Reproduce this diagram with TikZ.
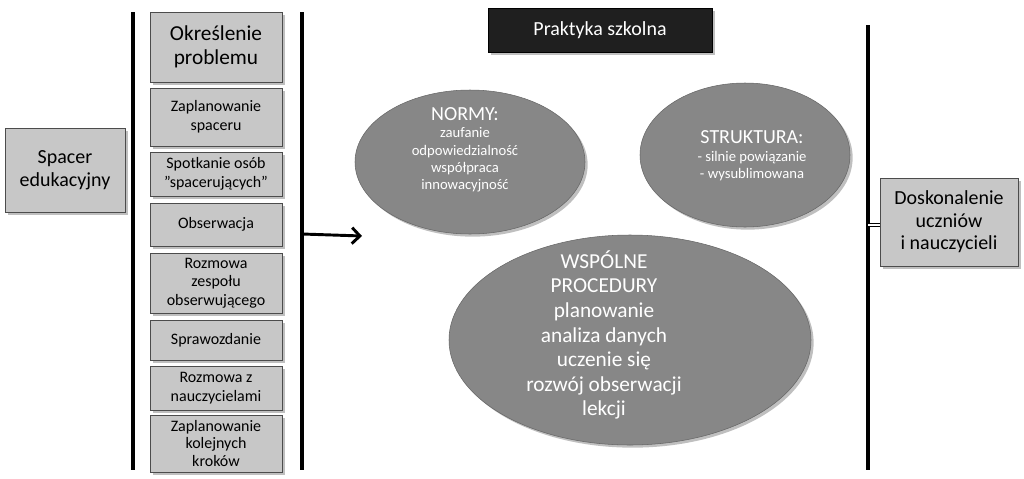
\documentclass[tikz,border=0pt]{standalone}
\usepackage{fontspec}
\setmainfont{Carlito}
\usetikzlibrary{shapes.geometric,arrows.meta,shadows}
\begin{document}
\begin{tikzpicture}[x=0.0264cm,y=-0.0264cm,
  gbox/.style={draw=black!70,fill=black!22,align=center,inner sep=1pt,drop shadow={shadow xshift=2pt,shadow yshift=-2pt,opacity=0.5}},
  ell/.style={ellipse,draw=black!60,fill=black!47,text=white,align=center,inner sep=0pt,drop shadow={shadow xshift=2pt,shadow yshift=-2pt,opacity=0.5}},
  vline/.style={line width=3.5pt,black}]
\useasboundingbox (0,0) rectangle (1024,478);
\node[gbox,minimum width=120*0.0264cm,minimum height=84*0.0264cm,font=\fontsize{15}{17}\selectfont] (sp) at (65,170) {Spacer\\edukacyjny};
\coordinate (l1t) at (133,12); \coordinate (l1b) at (133,470);
\draw[vline] (l1t) -- (l1b);
\coordinate (l2t) at (302,12); \coordinate (l2b) at (302,470);
\draw[vline] (l2t) -- (l2b);
\foreach \n/\ya/\yb/\t/\f/\g in {
 s1/12/82/{Określenie\\problemu}/16/18,
 s2/88/146/{Zaplanowanie\\spaceru}/12/14,
 s3/152/196/{Spotkanie osób\\"spacerujących"}/12/14,
 s4/203/246/{Obserwacja}/12/14,
 s5/253/313/{Rozmowa\\zespołu\\obserwującego}/12/14,
 s6/320/360/{Sprawozdanie}/12/14,
 s7/366/410/{Rozmowa z\\nauczycielami}/12/14,
 s8/415/472/{Zaplanowanie\\kolejnych\\kroków}/12/13.5}{
 \pgfmathsetmacro{\h}{\yb-\ya}
 \node[gbox,minimum width=132*0.0264cm,minimum height=\h*0.0264cm,font=\fontsize{\f}{\g}\selectfont] (\n) at (216,{(\ya+\yb)/2}) {\t};
}
\coordinate (as) at (302,234);
\coordinate (ae) at (362,236);
\draw[line width=2.2pt,-{Straight Barb[length=6pt,width=12pt]}] (as) -- (ae);
\node[fill=black!88,draw=black,text=white,minimum width=224*0.0264cm,minimum height=44*0.0264cm,font=\fontsize{15}{17}\selectfont,drop shadow={shadow xshift=2pt,shadow yshift=-2pt,opacity=0.5}] (ps) at (600,30) {Praktyka szkolna};
\node[ell,minimum width=230*0.0264cm,minimum height=144*0.0264cm] (n) at (470,162) {};
\node[text=white,align=center,font=\fontsize{11}{13}\selectfont] at (465,150) {{\fontsize{15}{16}\selectfont NORMY:}\\zaufanie\\odpowiedzialność\\współpraca\\innowacyjność};
\node[ell,minimum width=210*0.0264cm,minimum height=144*0.0264cm] (st) at (745,155) {};
\node[text=white,align=center,font=\fontsize{11}{13}\selectfont] at (752,156) {{\fontsize{15}{16}\selectfont STRUKTURA:}\\- silnie powiązanie\\- wysublimowana};
\node[ell,minimum width=362*0.0264cm,minimum height=210*0.0264cm] (w) at (630,340) {};
\node[text=white,align=center,font=\fontsize{16}{18.5}\selectfont] at (604,335) {WSPÓLNE\\PROCEDURY\\planowanie\\analiza danych\\uczenie się\\rozwój obserwacji\\lekcji};
\coordinate (r1t) at (868,25); \coordinate (r1b) at (868,470);
\draw[vline] (r1t) -- (r1b);
\node[gbox,minimum width=138*0.0264cm,minimum height=88*0.0264cm,font=\fontsize{15}{17}\selectfont] (dk) at (949,222) {Doskonalenie\\uczniów\\i nauczycieli};
\coordinate (c1) at (868,225);
\draw[double,double distance=1.5pt,line width=0.8pt] (c1) -- (dk.west |- c1);
\end{tikzpicture}
\end{document}
